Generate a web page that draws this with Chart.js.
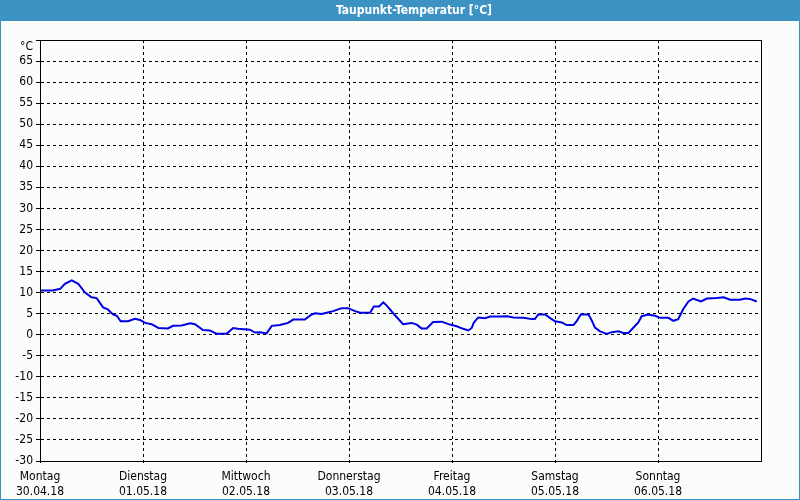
<!DOCTYPE html>
<html>
<head>
<meta charset="utf-8">
<script src="https://cdn.jsdelivr.net/npm/chart.js@4.4.1/dist/chart.umd.min.js"></script>
<style>
  html, body { margin: 0; padding: 0; background: #ffffff; }
  #wrap { position: relative; width: 800px; height: 500px; }
</style>
</head>
<body>
<div id="wrap"><canvas id="c" width="800" height="500"></canvas></div>
<script>
// ---- data (hours since Montag 30.04.18 00:00, dew point °C) ----
const title = 'Taupunkt-Temperatur [°C]';
const dayNames = ['Montag', 'Dienstag', 'Mittwoch', 'Donnerstag', 'Freitag', 'Samstag', 'Sonntag'];
const dayDates = ['30.04.18', '01.05.18', '02.05.18', '03.05.18', '04.05.18', '05.05.18', '06.05.18'];
const yTickTopLabel = '°C';
const hours = [
  0, 3.0, 4.7, 5.8, 7.4, 8.9, 10.5, 12.0, 13.2, 14.7, 15.8, 17.0, 17.9, 18.8, 20.5, 22.1, 23.3,
  24.5, 26.0, 27.6, 29.8, 31.0, 33.0, 35.0, 36.1, 38.0, 39.6, 41.2, 43.5, 45.0, 46.1,
  48.9, 50.1, 51.3, 52.8, 54.0, 55.9, 57.8, 59.0, 61.7, 63.3, 64.1, 65.6, 66.8, 68.3, 70.3,
  71.8, 73.4, 74.6, 76.9, 77.8, 79.0, 80.0, 80.8, 82.3, 84.6, 86.6, 87.8, 88.9, 90.1, 91.6,
  93.6, 95.5, 97.1, 98.6, 99.8, 100.6, 101.1, 102.1, 103.7, 104.9, 107.2, 108.8, 110.3, 112.6,
  114.6, 115.3, 116.1, 117.7, 118.8, 120.0, 121.6, 122.7, 124.3, 125.1, 126.0, 127.8, 128.6,
  129.3, 130.5, 132.1, 133.2, 134.8, 135.9, 137.1, 138.3, 139.4, 140.2, 141.7, 143.3,
  144.5, 146.4, 147.6, 148.7, 149.9, 151.1, 152.2, 154.0, 155.4, 157.7, 159.3, 160.8,
  163.1, 164.3, 165.4, 167.0
];
const dewPoint = [
  10.5, 10.5, 10.9, 12.1, 12.9, 12.1, 10.0, 8.9, 8.7, 6.5, 6.0, 4.8, 4.5, 3.2, 3.2, 3.8, 3.5,
  2.8, 2.5, 1.6, 1.5, 2.1, 2.2, 2.7, 2.5, 1.1, 1.0, 0.2, 0.2, 1.6, 1.4,
  1.2, 0.5, 0.6, 0.3, 2.1, 2.3, 2.8, 3.6, 3.6, 4.8, 5.1, 4.9, 5.2, 5.6, 6.3,
  6.3, 5.6, 5.2, 5.2, 6.7, 6.7, 7.7, 6.9, 5.1, 2.5, 2.8, 2.4, 1.5, 1.5, 3.0,
  3.1, 2.4, 2.0, 1.4, 1.0, 1.6, 2.9, 4.1, 3.9, 4.3, 4.3, 4.4, 4.1, 4.0,
  3.7, 3.7, 4.8, 4.8, 4.0, 3.2, 2.9, 2.3, 2.3, 3.3, 4.8, 4.8, 3.3,
  1.7, 0.8, 0.2, 0.6, 0.8, 0.4, 0.4, 1.7, 2.9, 4.4, 4.8, 4.5,
  4.0, 4.0, 3.3, 3.7, 6.1, 7.9, 8.6, 7.9, 8.6, 8.7, 8.9, 8.3,
  8.3, 8.6, 8.5, 7.9
];
const yMin = -30, yMax = 70, yStep = 5;
const xMin = 0, xMax = 168, xStep = 24;

// ---- styles ----
const FONT = '"DejaVu Sans Condensed", Tahoma, "DejaVu Sans", sans-serif';
const BAR = '#3d92c4';
const BG = '#fbfdfb';

const points = hours.map((h, i) => ({ x: h, y: dewPoint[i] }));

const framePlugin = {
  id: 'frame',
  beforeDraw(chart) {
    const ctx = chart.ctx;
    const W = chart.width, H = chart.height;
    ctx.save();
    ctx.fillStyle = BG;
    ctx.fillRect(0, 0, W, H);
    ctx.fillStyle = BAR;
    ctx.fillRect(0, 0, W, 21);
    ctx.fillRect(0, 0, 1, H);
    ctx.fillRect(W - 1, 0, 1, H);
    ctx.fillRect(0, H - 1, W, 1);
    ctx.fillStyle = '#ffffff';
    ctx.font = 'bold 12px ' + FONT;
    ctx.textAlign = 'center';
    ctx.textBaseline = 'middle';
    ctx.fillText(title, 414, 11);
    ctx.restore();
  },
  afterDatasetsDraw(chart) {
    const a = chart.chartArea;
    const ctx = chart.ctx;
    ctx.save();
    ctx.strokeStyle = '#000000';
    ctx.lineWidth = 1;
    ctx.strokeRect(Math.round(a.left) + 0.5, Math.round(a.top) + 0.5,
                   Math.round(a.right - a.left), Math.round(a.bottom - a.top));
    ctx.restore();
  }
};

new Chart(document.getElementById('c'), {
  type: 'line',
  data: {
    datasets: [{
      data: points,
      borderColor: '#0000e6',
      borderWidth: 2,
      pointRadius: 0,
      tension: 0,
      fill: false
    }]
  },
  options: {
    responsive: false,
    animation: false,
    layout: { padding: { left: 0, top: 40, right: 39, bottom: 0 } },
    plugins: { legend: { display: false }, tooltip: { enabled: false }, title: { display: false } },
    scales: {
      x: {
        type: 'linear',
        min: xMin, max: xMax,
        afterFit(s) { s.height = 39; },
        afterBuildTicks(s) {
          const t = [];
          for (let v = xMin; v < xMax; v += xStep) t.push({ value: v });
          s.ticks = t;
        },
        ticks: {
          autoSkip: false,
          maxRotation: 0,
          padding: 6,
          color: '#000000',
          font: { family: FONT, size: 12, lineHeight: 15 / 12 },
          callback(v) {
            const i = Math.round(v / xStep);
            return [dayNames[i], dayDates[i]];
          }
        },
        grid: {
          color: '#000000',
          lineWidth: 1,
          drawTicks: true,
          tickLength: 2
        },
        border: { display: true, color: '#000000', dash: [3, 3] }
      },
      y: {
        min: yMin, max: yMax,
        afterFit(s) { s.width = 40; },
        ticks: {
          stepSize: yStep,
          autoSkip: false,
          padding: 3,
          color: '#000000',
          font: { family: FONT, size: 12, lineHeight: 1.1 },
          callback(v) { return v === yMax ? ['', yTickTopLabel] : String(v); }
        },
        grid: {
          color: '#000000',
          lineWidth: 1,
          drawTicks: true,
          tickLength: 4
        },
        border: { display: true, color: '#000000', dash: [3, 3] }
      }
    }
  },
  plugins: [framePlugin]
});
</script>
</body>
</html>
